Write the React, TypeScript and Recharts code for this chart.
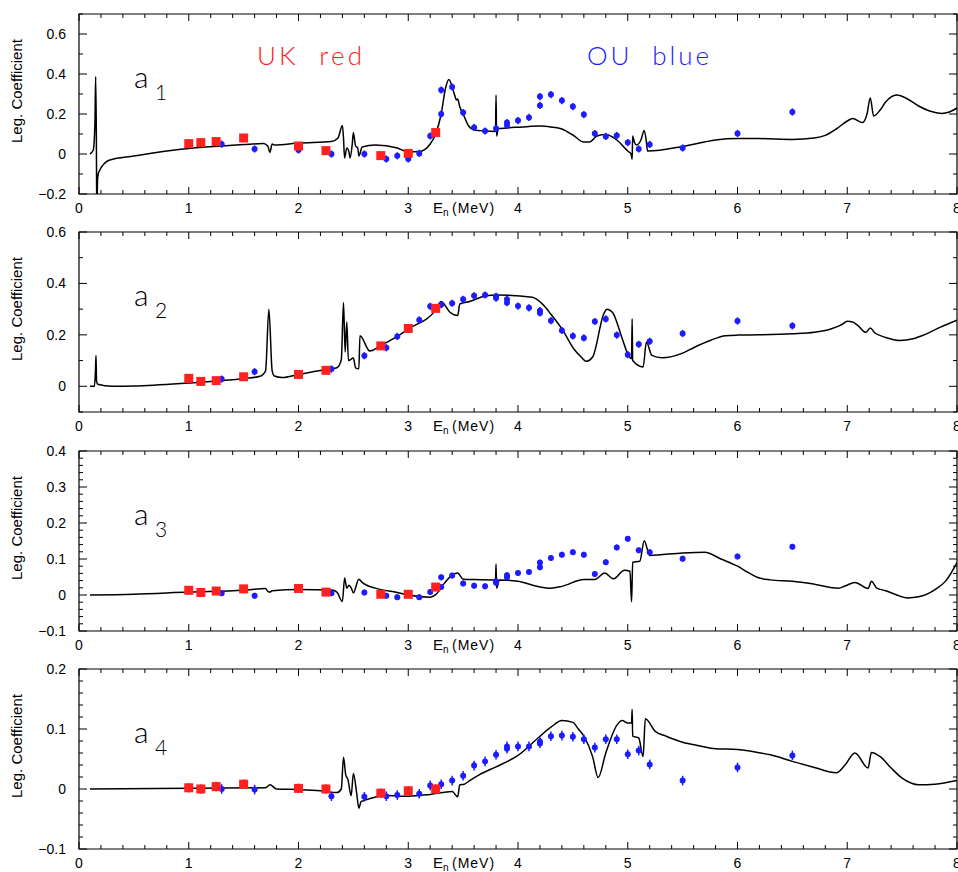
import { ComposedChart, Line, Scatter, ErrorBar, XAxis, YAxis, ReferenceArea } from 'recharts';

const CURVE_A1 = [
  [0.1, 0], [0.13, 0.02], [0.145, 0.15], [0.152, 0.387], [0.158, 0.1], [0.162, -0.3], [0.17, -0.12],
  [0.18, -0.09], [0.28, -0.03], [0.5, -0.01], [0.8, 0.015], [1, 0.028], [1.3, 0.04], [1.5, 0.047],
  [1.68, 0.052], [1.72, 0.04], [1.74, 0.008], [1.76, 0.05], [1.78, 0.045], [2, 0.055], [2.3, 0.062],
  [2.36, 0.08], [2.4, 0.143], [2.41, 0.08], [2.42, -0.02], [2.44, 0.03], [2.46, 0.01], [2.47, -0.02],
  [2.49, 0.05], [2.5, 0.108], [2.52, 0.04], [2.54, 0.03], [2.55, -0.01], [2.58, 0.035], [2.7, 0.045],
  [2.9, 0.03], [3.0, 0.01], [3.1, 0.012], [3.2, 0.05], [3.25, 0.1], [3.3, 0.2], [3.34, 0.33],
  [3.37, 0.373], [3.42, 0.3], [3.44, 0.27], [3.45, 0.275], [3.47, 0.235], [3.5, 0.2], [3.55, 0.14],
  [3.6, 0.12], [3.7, 0.115], [3.795, 0.113], [3.8, 0.295], [3.805, 0.09], [3.82, 0.127], [3.9, 0.13],
  [4.1, 0.138], [4.2, 0.14], [4.3, 0.135], [4.4, 0.125], [4.5, 0.095], [4.6, 0.06], [4.65, 0.06],
  [4.72, 0.09], [4.8, 0.097], [4.9, 0.07], [5.0, 0.015], [5.03, 0.0], [5.04, -0.027], [5.045, 0.09],
  [5.06, 0.06], [5.08, 0.045], [5.12, 0.07], [5.15, 0.118], [5.17, 0.06], [5.18, 0.015], [5.5, 0.038],
  [5.7, 0.06], [5.8, 0.07], [6.0, 0.077], [6.2, 0.077], [6.5, 0.073], [6.7, 0.08], [6.8, 0.093],
  [6.9, 0.125], [7.0, 0.165], [7.05, 0.177], [7.14, 0.157], [7.18, 0.2], [7.21, 0.28], [7.24, 0.19],
  [7.3, 0.22], [7.35, 0.26], [7.45, 0.295], [7.55, 0.275], [7.65, 0.24], [7.75, 0.215], [7.86, 0.203],
  [7.93, 0.21], [8.0, 0.23],
];
const UK_A1 = [
  [1, 0.052], [1.11, 0.057], [1.25, 0.062], [1.5, 0.08], [2, 0.04], [2.25, 0.017], [2.75, -0.008],
  [3, 0.003], [3.25, 0.107],
];
const OU_A1 = [
  [1.3, 0.049], [1.6, 0.025], [2.0, 0.02], [2.3, 0.0], [2.6, 0.0], [2.8, -0.025], [2.9, -0.009],
  [3.0, -0.025], [3.1, 0.003], [3.2, 0.09], [3.3, 0.2], [3.3, 0.32], [3.4, 0.335], [3.5, 0.207],
  [3.6, 0.133], [3.7, 0.115], [3.8, 0.128], [3.9, 0.157], [3.9, 0.143], [4.0, 0.167], [4.1, 0.183],
  [4.2, 0.287], [4.2, 0.243], [4.3, 0.297], [4.4, 0.267], [4.5, 0.237], [4.6, 0.197], [4.7, 0.102],
  [4.8, 0.088], [4.9, 0.092], [5.0, 0.057], [5.1, 0.025], [5.2, 0.048], [5.5, 0.03], [6.0, 0.103],
  [6.5, 0.21],
];

const CURVE_A2 = [
  [0.1, 0], [0.14, 0], [0.15, 0.06], [0.155, 0.12], [0.16, 0.02], [0.17, 0.008], [0.3, 0], [0.5, 0.001],
  [1, 0.013], [1.5, 0.03], [1.65, 0.039], [1.7, 0.06], [1.73, 0.3], [1.76, 0.06], [1.78, 0.04],
  [1.85, 0.034], [2, 0.046], [2.25, 0.065], [2.35, 0.072], [2.39, 0.103], [2.41, 0.326], [2.425, 0.133],
  [2.44, 0.25], [2.455, 0.1], [2.5, 0.11], [2.52, 0.072], [2.55, 0.068], [2.56, 0.197], [2.65, 0.137],
  [2.75, 0.159], [2.9, 0.194], [3.0, 0.223], [3.25, 0.297], [3.3, 0.33], [3.38, 0.288], [3.45, 0.275],
  [3.47, 0.32], [3.56, 0.33], [3.71, 0.352], [3.8, 0.355], [4.13, 0.346], [4.25, 0.307], [4.3, 0.28],
  [4.4, 0.223], [4.52, 0.139], [4.58, 0.112], [4.62, 0.097], [4.68, 0.114], [4.78, 0.28], [4.81, 0.3],
  [4.86, 0.288], [4.95, 0.185], [5.0, 0.126], [5.035, 0.107], [5.04, 0.262], [5.045, 0.1], [5.14, 0.075],
  [5.17, 0.172], [5.22, 0.12], [5.31, 0.111], [5.5, 0.129], [5.6, 0.15], [5.75, 0.178], [5.89, 0.197],
  [6.0, 0.199], [6.2, 0.2], [6.5, 0.204], [6.7, 0.21], [6.85, 0.223], [6.95, 0.24], [7.0, 0.253],
  [7.05, 0.25], [7.1, 0.235], [7.17, 0.21], [7.21, 0.227], [7.25, 0.208], [7.35, 0.19], [7.48, 0.178],
  [7.6, 0.185], [7.7, 0.2], [7.85, 0.23], [8.0, 0.257],
];
const UK_A2 = [
  [1, 0.031], [1.11, 0.019], [1.25, 0.022], [1.5, 0.037], [2, 0.046], [2.25, 0.062], [2.75, 0.157],
  [3, 0.225], [3.25, 0.303],
];
const OU_A2 = [
  [1.3, 0.028], [1.6, 0.057], [2.3, 0.067], [2.6, 0.119], [2.8, 0.15], [2.9, 0.194], [3.1, 0.258],
  [3.2, 0.311], [3.3, 0.317], [3.4, 0.323], [3.5, 0.338], [3.6, 0.352], [3.7, 0.355], [3.8, 0.35],
  [3.8, 0.343], [3.9, 0.338], [3.9, 0.325], [4.0, 0.312], [4.1, 0.305], [4.2, 0.294], [4.2, 0.285],
  [4.3, 0.255], [4.4, 0.217], [4.5, 0.196], [4.6, 0.188], [4.7, 0.252], [4.8, 0.262], [4.9, 0.199],
  [5.0, 0.123], [5.1, 0.163], [5.2, 0.175], [5.5, 0.205], [6.0, 0.254], [6.5, 0.235],
];

const CURVE_A3 = [
  [0.1, 0], [0.5, 0.002], [1, 0.008], [1.5, 0.013], [1.7, 0.018], [1.72, 0.01], [1.74, 0.008],
  [1.76, 0.012], [2, 0.015], [2.3, 0.014], [2.35, 0.008], [2.4, -0.018], [2.42, 0.047], [2.44, 0.019],
  [2.46, 0.027], [2.48, 0.02], [2.5, 0.006], [2.55, 0.044], [2.58, 0.035], [2.7, 0.019], [2.9, 0.007],
  [3.0, 0], [3.2, -0.006], [3.25, 0.001], [3.33, 0.033], [3.4, 0.055], [3.45, 0.061], [3.5, 0.044],
  [3.6, 0.043], [3.795, 0.042], [3.8, 0.086], [3.805, 0.019], [3.83, 0.042], [4.0, 0.038], [4.19, 0.023],
  [4.3, 0.019], [4.4, 0.024], [4.6, 0.043], [4.7, 0.043], [4.79, 0.061], [4.87, 0.045], [4.97, 0.069],
  [5.02, 0.066], [5.035, -0.019], [5.045, 0.091], [5.11, 0.094], [5.15, 0.151], [5.2, 0.11],
  [5.5, 0.117], [5.7, 0.119], [5.85, 0.1], [6.0, 0.08], [6.1, 0.062], [6.2, 0.047], [6.3, 0.042],
  [6.5, 0.038], [6.7, 0.03], [6.92, 0.019], [6.98, 0.025], [7.07, 0.035], [7.19, 0.018], [7.22, 0.038],
  [7.27, 0.019], [7.35, 0.012], [7.45, 0.0], [7.55, -0.008], [7.65, -0.005], [7.8, 0.015], [7.9, 0.04],
  [8.0, 0.09],
];
const UK_A3 = [
  [1, 0.013], [1.11, 0.007], [1.25, 0.011], [1.5, 0.017], [2, 0.018], [2.25, 0.008], [2.75, 0.002],
  [3, 0.002], [3.25, 0.022],
];
const OU_A3 = [
  [1.3, 0.005], [1.6, -0.002], [2.3, 0.005], [2.6, 0.007], [2.8, -0.002], [2.9, -0.006], [3.1, -0.006],
  [3.2, 0.008], [3.3, 0.049], [3.3, 0.022], [3.4, 0.054], [3.5, 0.032], [3.6, 0.026], [3.7, 0.024],
  [3.8, 0.038], [3.8, 0.034], [3.9, 0.055], [3.9, 0.049], [4.0, 0.061], [4.1, 0.064], [4.2, 0.09],
  [4.2, 0.077], [4.3, 0.103], [4.4, 0.112], [4.5, 0.119], [4.6, 0.112], [4.7, 0.058], [4.8, 0.091],
  [4.9, 0.132], [5.0, 0.156], [5.1, 0.124], [5.2, 0.119], [5.5, 0.101], [6.0, 0.107], [6.5, 0.134],
];

const CURVE_A4 = [
  [0.1, 0], [1.7, 0.002], [1.74, 0.007], [1.8, 0], [2, -0.001], [2.2, -0.003], [2.35, -0.006],
  [2.39, 0], [2.41, 0.053], [2.43, 0.024], [2.45, 0.016], [2.48, -0.011], [2.5, 0.026], [2.53, -0.007],
  [2.55, -0.032], [2.57, -0.021], [2.6, -0.019], [2.8, -0.011], [3.0, -0.012], [3.2, -0.009],
  [3.4, -0.004], [3.45, -0.013], [3.47, 0.007], [3.51, 0.008], [3.56, 0.014], [3.65, 0.024],
  [3.8, 0.037], [4.0, 0.056], [4.2, 0.088], [4.3, 0.103], [4.4, 0.114], [4.5, 0.111], [4.55, 0.1],
  [4.6, 0.088], [4.68, 0.054], [4.73, 0.019], [4.8, 0.06], [4.9, 0.106], [4.95, 0.114], [5.0, 0.11],
  [5.035, 0.11], [5.04, 0.133], [5.045, 0.088], [5.1, 0.085], [5.14, 0.054], [5.16, 0.117],
  [5.25, 0.096], [5.35, 0.088], [5.5, 0.078], [5.65, 0.072], [5.8, 0.067], [6.0, 0.066], [6.15, 0.062],
  [6.3, 0.057], [6.5, 0.046], [6.7, 0.036], [6.9, 0.027], [6.98, 0.04], [7.07, 0.06], [7.19, 0.035],
  [7.22, 0.061], [7.3, 0.054], [7.4, 0.035], [7.5, 0.018], [7.58, 0.01], [7.65, 0.007], [7.8, 0.008],
  [8.0, 0.014],
];
const UK_A4 = [
  [1, 0.002], [1.11, 0], [1.25, 0.004], [1.5, 0.008], [2, 0.001], [2.25, 0], [2.75, -0.007],
  [3, -0.003], [3.25, 0],
];
const OU_A4 = [
  [1.3, 0], [1.6, -0.001], [2.3, -0.012], [2.6, -0.013], [2.8, -0.012], [2.9, -0.01], [3.1, -0.008],
  [3.2, 0.006], [3.3, 0.008], [3.4, 0.014], [3.5, 0.022], [3.6, 0.039], [3.7, 0.046], [3.8, 0.057],
  [3.9, 0.071], [3.9, 0.067], [4.0, 0.071], [4.1, 0.071], [4.2, 0.079], [4.2, 0.076], [4.3, 0.088],
  [4.4, 0.089], [4.5, 0.087], [4.6, 0.083], [4.7, 0.069], [4.8, 0.083], [4.9, 0.083], [5.0, 0.058],
  [5.1, 0.064], [5.2, 0.041], [5.5, 0.014], [6.0, 0.036], [6.5, 0.056],
];

// error bar half-widths per panel
const UK_ERR = [0, 0, 0.006, 0.008];
const OU_ERR = [0.018, 0.014, 0.008, 0.008];

const X_TICKS = [
  0, 0.2, 0.4, 0.6, 0.8, 1, 1.2, 1.4, 1.6, 1.8, 2, 2.2, 2.4, 2.6, 2.8, 3, 3.2, 3.4, 3.6, 3.8, 4,
  4.2, 4.4, 4.6, 4.8, 5, 5.2, 5.4, 5.6, 5.8, 6, 6.2, 6.4, 6.6, 6.8, 7, 7.2, 7.4, 7.6, 7.8, 8,
];
const A1_TICKS = [-0.2, -0.1, 0, 0.1, 0.2, 0.3, 0.4, 0.5, 0.6, 0.7];
const A1_LABELS = [-0.2, 0, 0.2, 0.4, 0.6];
const A2_TICKS = [-0.1, 0, 0.1, 0.2, 0.3, 0.4, 0.5, 0.6];
const A2_LABELS = [0, 0.2, 0.4, 0.6];
const A3_TICKS = [
  -0.1, -0.08, -0.06, -0.04, -0.02, 0, 0.02, 0.04, 0.06, 0.08, 0.1, 0.12, 0.14, 0.16, 0.18, 0.2,
  0.22, 0.24, 0.26, 0.28, 0.3, 0.32, 0.34, 0.36, 0.38, 0.4,
];
const A3_LABELS = [-0.1, 0, 0.1, 0.2, 0.3, 0.4];
const A4_TICKS = [-0.1, -0.08, -0.06, -0.04, -0.02, 0, 0.02, 0.04, 0.06, 0.08, 0.1, 0.12, 0.14, 0.16, 0.18, 0.2];
const A4_LABELS = [-0.1, 0, 0.1, 0.2];

const RED = '#ff2020';
const BLUE = '#1c1cff';
const FONT = '"Liberation Sans", Arial, sans-serif';
const PLOT_W = 878;
const PLOT_H = 180;

const fmt = (v: number) => (Math.abs(v) < 1e-9 ? '0' : v < 0 ? `\u2212${Math.abs(v)}` : String(v));

function XTick({ x, y, payload }: any) {
  const v = payload.value;
  const major = Math.abs(v - Math.round(v)) < 1e-6;
  const len = major ? 7 : 4;
  return (
    <g>
      <line x1={x} y1={y} x2={x} y2={y - len} stroke="#000" />
      <line x1={x} y1={y - PLOT_H} x2={x} y2={y - PLOT_H + len} stroke="#000" />
      {major && (
        <text x={x} y={y + 19} textAnchor="middle" fontSize={14} fontFamily={FONT} fill="#000">
          {v}
        </text>
      )}
    </g>
  );
}

function makeYTick(labels: number[]) {
  return function YTick({ x, y, payload }: any) {
    const v = payload.value;
    const major = labels.some((l) => Math.abs(l - v) < 1e-6);
    const len = major ? 8 : 4;
    return (
      <g>
        <line x1={x} y1={y} x2={x + len} y2={y} stroke="#000" />
        <line x1={x + PLOT_W} y1={y} x2={x + PLOT_W - len} y2={y} stroke="#000" />
        {major && (
          <text x={x - 13} y={y + 5} textAnchor="end" fontSize={14} fontFamily={FONT} fill="#000">
            {fmt(v)}
          </text>
        )}
      </g>
    );
  };
}

const UKSquare = ({ cx, cy }: any) => <rect x={cx - 4.5} y={cy - 4.5} width={9} height={9} fill={RED} />;
const OUDot = ({ cx, cy }: any) => <circle cx={cx} cy={cy} r={3} fill={BLUE} />;

interface PanelProps {
  curve: number[][];
  uk: number[][];
  ou: number[][];
  domain: [number, number];
  ticks: number[];
  labels: number[];
  idx: number;
}

function Panel({ curve, uk, ou, domain, ticks, labels, idx }: PanelProps) {
  const line = curve.map(([e, v]) => ({ e, v }));
  const ukData = uk.map(([e, v]) => ({ e, v, err: UK_ERR[idx] }));
  const ouData = ou.map(([e, v]) => ({ e, v, err: OU_ERR[idx] }));
  const YTick = makeYTick(labels);
  return (
    <ComposedChart width={980} height={218} margin={{ top: 14, right: 23, bottom: 0, left: 0 }}>
      <XAxis
        type="number" dataKey="e" domain={[0, 8]} ticks={X_TICKS} interval={0} allowDataOverflow
        height={24} tickSize={0} tickMargin={0} axisLine={false} tickLine={false} tick={<XTick />}
      />
      <YAxis
        type="number" domain={domain} ticks={ticks} interval={0} allowDataOverflow
        width={79} tickSize={0} tickMargin={0} axisLine={false} tickLine={false} tick={<YTick />}
      />
      <ReferenceArea x1={0} x2={8} y1={domain[0]} y2={domain[1]} stroke="#000" strokeWidth={1.2} fill="none" fillOpacity={0} />
      <Line data={line} dataKey="v" type="monotone" stroke="#000" strokeWidth={1.5} dot={false} isAnimationActive={false} />
      <Scatter data={ouData} dataKey="v" shape={<OUDot />} isAnimationActive={false}>
        <ErrorBar dataKey="err" direction="y" width={0} stroke={BLUE} strokeWidth={1.5} />
      </Scatter>
      <Scatter data={ukData} dataKey="v" shape={<UKSquare />} isAnimationActive={false}>
        <ErrorBar dataKey="err" direction="y" width={0} stroke={RED} strokeWidth={1.5} />
      </Scatter>
    </ComposedChart>
  );
}

const PANEL_TOPS = [0, 218, 437, 655];
const PANELS = [
  { curve: CURVE_A1, uk: UK_A1, ou: OU_A1, domain: [-0.2, 0.7] as [number, number], ticks: A1_TICKS, labels: A1_LABELS },
  { curve: CURVE_A2, uk: UK_A2, ou: OU_A2, domain: [-0.1, 0.6] as [number, number], ticks: A2_TICKS, labels: A2_LABELS },
  { curve: CURVE_A3, uk: UK_A3, ou: OU_A3, domain: [-0.1, 0.4] as [number, number], ticks: A3_TICKS, labels: A3_LABELS },
  { curve: CURVE_A4, uk: UK_A4, ou: OU_A4, domain: [-0.1, 0.2] as [number, number], ticks: A4_TICKS, labels: A4_LABELS },
];

export default function App() {
  return (
    <div style={{ position: 'absolute', left: 0, top: 0, width: 958, height: 872, overflow: 'hidden', background: '#fff' }}>
      {PANELS.map((p, i) => (
        <div key={i} style={{ position: 'absolute', left: 0, top: PANEL_TOPS[i] }}>
          <Panel {...p} idx={i} />
        </div>
      ))}
      <svg width={958} height={872} style={{ position: 'absolute', left: 0, top: 0, pointerEvents: 'none' }}>
        {PANELS.map((_, i) => {
          const top = PANEL_TOPS[i] + 14;
          return (
            <g key={i} fontFamily={FONT} fill="#000">
              <text
                x={22} y={top + 77} fontSize={15} textAnchor="middle"
                transform={`rotate(-90 22 ${top + 77})`}
              >
                Leg. Coefficient
              </text>
              <text x={134} y={top + 74} fontSize={30} fontFamily="Lato, sans-serif" fontWeight={300}>a</text>
              <text x={155} y={top + 86} fontSize={21} fontFamily="Lato, sans-serif" fontWeight={300}>{i + 1}</text>
              <text x={433} y={top + PLOT_H + 19} fontSize={15}>E</text>
              <text x={443} y={top + PLOT_H + 22} fontSize={10}>n</text>
              <text x={452} y={top + PLOT_H + 19} fontSize={14} letterSpacing={1}>(MeV)</text>
            </g>
          );
        })}
        <text x={257} y={65} fontSize={26} fill={RED} fontFamily="Lato, sans-serif" fontWeight={300}
          textLength={105} lengthAdjust="spacing" style={{ whiteSpace: 'pre' }}>
          UK  red
        </text>
        <text x={587} y={65} fontSize={26} fill={BLUE} fontFamily="Lato, sans-serif" fontWeight={300}
          textLength={122} lengthAdjust="spacing" style={{ whiteSpace: 'pre' }}>
          OU  blue
        </text>
      </svg>
    </div>
  );
}
